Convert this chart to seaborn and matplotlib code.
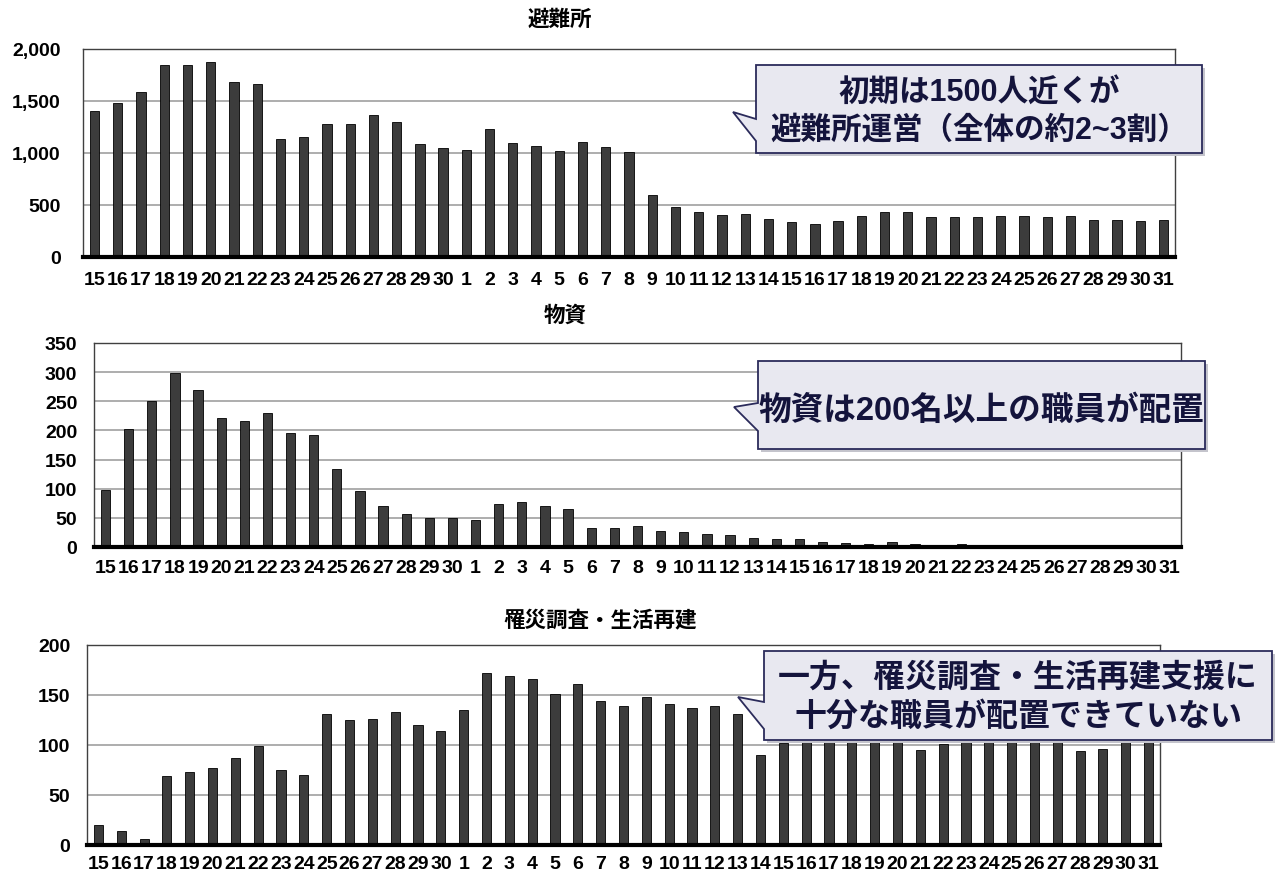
import numpy as np
import pandas as pd
import matplotlib
matplotlib.use("Agg")
import matplotlib.pyplot as plt
from matplotlib.patches import Polygon
import seaborn as sns

sns.set_theme(style="white")
plt.rcParams['font.family'] = ['Liberation Sans', 'Noto Sans CJK JP', 'DejaVu Sans']

# x labels: 15..30 then 1..31
days = ['15', '16', '17', '18', '19', '20', '21', '22', '23', '24', '25', '26', '27', '28', '29', '30',
        '1', '2', '3', '4', '5', '6', '7', '8', '9', '10', '11', '12', '13', '14', '15', '16',
        '17', '18', '19', '20', '21', '22', '23', '24', '25', '26', '27', '28', '29', '30', '31']

shelter = [1400, 1485, 1585, 1850, 1845, 1875, 1680, 1665, 1130, 1150, 1280, 1275, 1370, 1295, 1085, 1045,
           1030, 1235, 1100, 1070, 1015, 1105, 1055, 1010, 595, 478, 433, 404, 410, 362, 340, 321,
           343, 397, 433, 436, 385, 388, 388, 394, 394, 388, 394, 359, 359, 343, 359]

supplies = [97, 203, 251, 299, 270, 222, 217, 230, 195, 192, 133, 96, 70, 56, 50, 50,
            47, 73, 78, 70, 66, 32, 32, 36, 27, 25, 22, 21, 15, 13, 13, 8,
            7, 6, 9, 6, 2, 5, 1, 1, 1, 1, 1, 1, 1, 1, 1]

recovery = [20, 14, 6, 69, 73, 77, 87, 99, 75, 70, 131, 125, 126, 133, 120, 114,
            135, 172, 169, 166, 151, 161, 144, 139, 148, 141, 137, 139, 131, 90, 102, 115,
            120, 118, 125, 120, 95, 101, 110, 115, 112, 118, 110, 94, 96, 115, 120]

titles = ['避難所', '物資', '罹災調査・生活再建']
yticks = [[0, 500, 1000, 1500, 2000], [0, 50, 100, 150, 200, 250, 300, 350], [0, 50, 100, 150, 200]]
ytick_labels = [['0', '500', '1,000', '1,500', '2,000'],
                ['0', '50', '100', '150', '200', '250', '300', '350'],
                ['0', '50', '100', '150', '200']]

W, H = 1275, 879
fig = plt.figure(figsize=(W / 100, H / 100), dpi=100)


def fx(x):
    return x / W


def fy(y):
    return 1 - y / H


# axes boxes in pixels: left, right, top, bottom
boxes = [(83, 1175, 50, 258), (94, 1181, 344, 548), (87, 1160, 646, 846)]
title_pos = [(560, 20), (565, 316), (600, 621)]
ypads = [16, 12, 12]
xpads = [10, 8.5, 7]

series = [shelter, supplies, recovery]
bar_color = '#3c3c3c'

for i, (vals, (l, r, t, b)) in enumerate(zip(series, boxes)):
    ax = fig.add_axes([fx(l), fy(b), (r - l) / W, (b - t) / H])
    df = pd.DataFrame({'idx': np.arange(len(days)), 'val': vals})
    sns.barplot(data=df, x='idx', y='val', ax=ax, color=bar_color, saturation=1,
                width=0.4, edgecolor='black', linewidth=0.6, zorder=2)
    ax.set_xlim(-0.5, len(days) - 0.5)
    ax.set_ylim(0, yticks[i][-1])
    ax.set_yticks(yticks[i])
    ax.set_yticklabels(ytick_labels[i], fontsize=14, fontweight='bold')
    ax.set_xticks(range(len(days)))
    ax.set_xticklabels(days, fontsize=14, fontweight='bold')
    ax.tick_params(axis='y', length=0, pad=ypads[i], colors='black')
    ax.tick_params(axis='x', length=0, pad=xpads[i], colors='black')
    ax.set_xlabel('')
    ax.set_ylabel('')
    ax.grid(axis='y', color='#a0a0a0', linewidth=1.2, zorder=0)
    ax.set_axisbelow(True)
    for s in ['left', 'top', 'right']:
        ax.spines[s].set_color('#404040')
        ax.spines[s].set_linewidth(1.0)
    ax.spines['bottom'].set_color('black')
    ax.spines['bottom'].set_linewidth(3)
    ax.spines['bottom'].set_zorder(5)
    fig.text(fx(title_pos[i][0]), fy(title_pos[i][1]), titles[i], ha='center', va='center',
             fontsize=15.5, fontweight='bold', color='black')

# callouts: box (left, top, right, bottom), tip, pointer base y's, text lines
fill_c = '#e8e8f0'
edge_c = '#2b2b5b'
text_c = '#14143c'
callouts = [
    ((756, 66, 1202, 154), (733, 113), (120, 142), ['初期は1500人近くが', '避難所運営（全体の約2~3割）'], [93, 131], 22),
    ((758, 362, 1205, 450), (734, 408), (404, 432), ['物資は200名以上の職員が配置'], [411], 23.5),
    ((764, 652, 1272, 741), (738, 698), (703, 730), ['一方、罹災調査・生活再建支援に', '十分な職員が配置できていない'], [678, 717], 23),
]
for (l, t, r, b), (tx, ty), (p1, p2), lines, ys, fs in callouts:
    pts = [(l, t), (r, t), (r, b), (l, b), (l, p2), (tx, ty), (l, p1)]
    shadow = Polygon([(fx(x + 3), fy(y + 3)) for x, y in pts], closed=True, transform=fig.transFigure,
                     facecolor='#c4c4cc', edgecolor='none', zorder=9)
    fig.add_artist(shadow)
    poly = Polygon([(fx(x), fy(y)) for x, y in pts], closed=True, transform=fig.transFigure,
                   facecolor=fill_c, edgecolor=edge_c, linewidth=1.3, zorder=10)
    fig.add_artist(poly)
    cx = (l + r) / 2
    for line, yy in zip(lines, ys):
        fig.text(fx(cx), fy(yy), line, ha='center', va='center', fontsize=fs,
                 fontweight='bold', color=text_c, zorder=11)

fig.savefig('out.png', dpi=100)
